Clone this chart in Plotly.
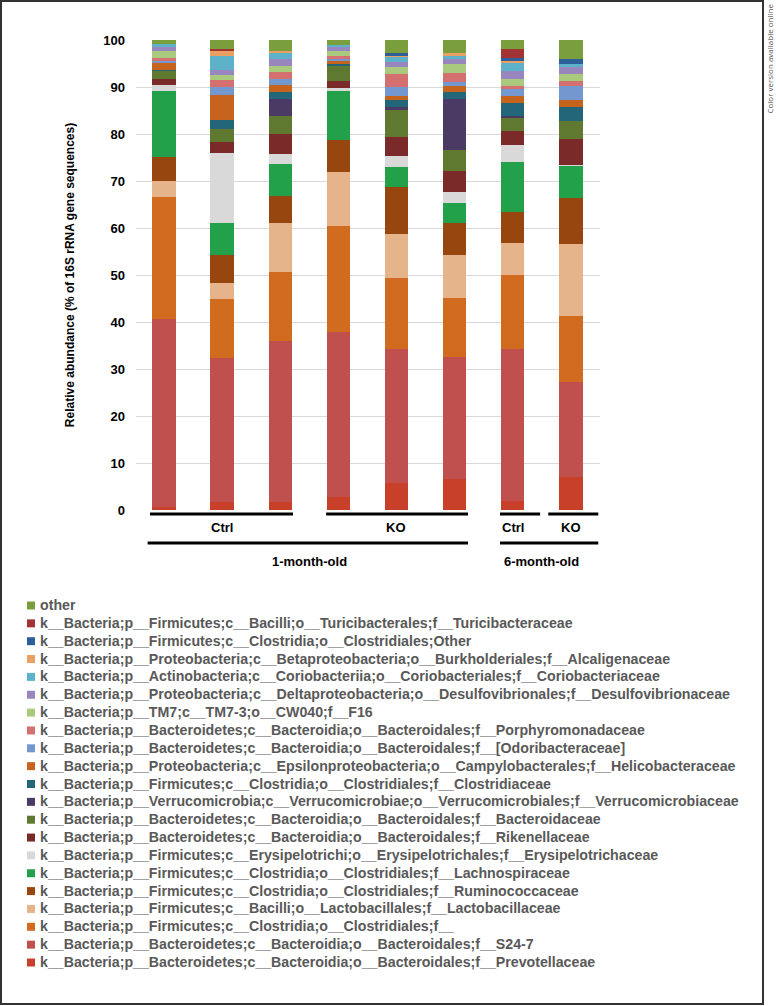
import plotly.graph_objects as go

samples = ["C1", "C2", "C3", "K1", "K2", "K3", "C6", "K6"]

taxa = [
    "k__Bacteria;p__Bacteroidetes;c__Bacteroidia;o__Bacteroidales;f__Prevotellaceae",
    "k__Bacteria;p__Bacteroidetes;c__Bacteroidia;o__Bacteroidales;f__S24-7",
    "k__Bacteria;p__Firmicutes;c__Clostridia;o__Clostridiales;f__",
    "k__Bacteria;p__Firmicutes;c__Bacilli;o__Lactobacillales;f__Lactobacillaceae",
    "k__Bacteria;p__Firmicutes;c__Clostridia;o__Clostridiales;f__Ruminococcaceae",
    "k__Bacteria;p__Firmicutes;c__Clostridia;o__Clostridiales;f__Lachnospiraceae",
    "k__Bacteria;p__Firmicutes;c__Erysipelotrichi;o__Erysipelotrichales;f__Erysipelotrichaceae",
    "k__Bacteria;p__Bacteroidetes;c__Bacteroidia;o__Bacteroidales;f__Rikenellaceae",
    "k__Bacteria;p__Bacteroidetes;c__Bacteroidia;o__Bacteroidales;f__Bacteroidaceae",
    "k__Bacteria;p__Verrucomicrobia;c__Verrucomicrobiae;o__Verrucomicrobiales;f__Verrucomicrobiaceae",
    "k__Bacteria;p__Firmicutes;c__Clostridia;o__Clostridiales;f__Clostridiaceae",
    "k__Bacteria;p__Proteobacteria;c__Epsilonproteobacteria;o__Campylobacterales;f__Helicobacteraceae",
    "k__Bacteria;p__Bacteroidetes;c__Bacteroidia;o__Bacteroidales;f__[Odoribacteraceae]",
    "k__Bacteria;p__Bacteroidetes;c__Bacteroidia;o__Bacteroidales;f__Porphyromonadaceae",
    "k__Bacteria;p__TM7;c__TM7-3;o__CW040;f__F16",
    "k__Bacteria;p__Proteobacteria;c__Deltaproteobacteria;o__Desulfovibrionales;f__Desulfovibrionaceae",
    "k__Bacteria;p__Actinobacteria;c__Coriobacteriia;o__Coriobacteriales;f__Coriobacteriaceae",
    "k__Bacteria;p__Proteobacteria;c__Betaproteobacteria;o__Burkholderiales;f__Alcaligenaceae",
    "k__Bacteria;p__Firmicutes;c__Clostridia;o__Clostridiales;Other",
    "k__Bacteria;p__Firmicutes;c__Bacilli;o__Turicibacterales;f__Turicibacteraceae",
    "other",
]

colors = [
    "#C9402A", "#C0504D", "#D06B20", "#E6B48A", "#984610", "#23A04A",
    "#D9D9D9", "#7B2A2A", "#5F7A30", "#4B3A64", "#23667A", "#C6631C",
    "#7398D0", "#D57070", "#A9C97C", "#9A86BF", "#5DB1C9", "#E9A062",
    "#2F5F98", "#A33434", "#7B9E3C",
]

# values (% of 16S rRNA gene sequences), one list per taxon, 8 samples each
prevotellaceae      = [0.6, 1.6, 1.6, 2.8, 5.8, 6.7, 2.0, 7.0]
s24_7               = [40.0, 30.8, 34.4, 35.0, 28.4, 25.8, 32.3, 20.3]
clostridiales_f     = [26.1, 12.6, 14.6, 22.6, 15.2, 12.7, 15.8, 14.0]
lactobacillaceae    = [3.4, 3.2, 10.5, 11.5, 9.3, 9.1, 6.8, 15.2]
ruminococcaceae     = [5.1, 6.1, 5.7, 6.8, 10.0, 6.7, 6.6, 9.8]
lachnospiraceae     = [14.0, 6.7, 6.8, 10.4, 4.3, 4.3, 10.5, 7.0]
erysipelotrichaceae = [1.2, 15.0, 2.1, 0.6, 2.3, 2.4, 3.7, 0.2]
rikenellaceae       = [1.4, 2.4, 4.4, 1.6, 4.1, 4.4, 2.9, 5.4]
bacteroidaceae      = [1.7, 2.7, 3.7, 3.2, 5.9, 4.6, 2.9, 3.9]
verrucomicrobiaceae = [0.0, 0.0, 3.6, 0.0, 0.4, 10.7, 0.3, 0.0]
clostridiaceae      = [0.2, 1.9, 1.5, 0.5, 1.5, 1.6, 2.9, 3.0]
helicobacteraceae   = [1.5, 5.3, 1.5, 0.5, 0.9, 1.2, 1.4, 1.4]
odoribacteraceae    = [0.3, 1.8, 1.2, 0.5, 2.0, 0.9, 1.4, 3.1]
porphyromonadaceae  = [0.7, 1.4, 1.6, 0.6, 2.7, 1.8, 0.7, 1.0]
f16                 = [1.5, 1.1, 1.3, 1.1, 1.4, 2.1, 1.4, 1.5]
desulfovibrionaceae = [0.9, 1.1, 1.5, 0.9, 1.2, 0.9, 1.7, 1.5]
coriobacteriaceae   = [0.5, 2.8, 1.3, 0.3, 1.1, 0.8, 1.9, 0.6]
alcaligenaceae      = [0.0, 1.2, 0.4, 0.0, 0.2, 0.5, 0.4, 0.0]
clostridiales_other = [0.0, 0.0, 0.0, 0.0, 0.5, 0.0, 0.5, 1.0]
turicibacteraceae   = [0.0, 0.4, 0.0, 0.0, 0.0, 0.0, 1.9, 0.0]
other               = [0.9, 1.9, 2.3, 1.1, 2.8, 2.8, 2.0, 4.1]

series = [
    prevotellaceae, s24_7, clostridiales_f, lactobacillaceae, ruminococcaceae,
    lachnospiraceae, erysipelotrichaceae, rikenellaceae, bacteroidaceae,
    verrucomicrobiaceae, clostridiaceae, helicobacteraceae, odoribacteraceae,
    porphyromonadaceae, f16, desulfovibrionaceae, coriobacteriaceae,
    alcaligenaceae, clostridiales_other, turicibacteraceae, other,
]

group_labels = ["Ctrl", "KO", "Ctrl", "KO"]
age_labels = ["1-month-old", "6-month-old"]

xpos = list(range(len(samples)))

# plot-area geometry in pixels (for converting decoration positions)
L, R, T, B = 136, 600, 40, 510
def px(xp):
    return (xp - L) / (R - L)
def py(yp):
    return (B - yp) / (B - T)

fig = go.Figure()
for name, vals, col in zip(taxa, series, colors):
    fig.add_trace(go.Bar(
        x=xpos, y=vals, name=name, marker=dict(color=col, line=dict(width=0)),
        width=0.4, showlegend=False,
    ))

fig.update_layout(
    barmode="stack",
    width=776, height=1006,
    margin=dict(l=L, r=776 - R, t=T, b=1006 - B, autoexpand=False),
    paper_bgcolor="white", plot_bgcolor="white",
    font=dict(family="Liberation Sans, Arial, sans-serif", color="#000000"),
    xaxis=dict(range=[-0.48, 7.5], showticklabels=False, showgrid=False,
               zeroline=False, showline=False, ticks=""),
    yaxis=dict(range=[0, 100], dtick=10, showgrid=True, gridcolor="#D9D9D9",
               gridwidth=1, zeroline=False, showline=False,
               tickfont=dict(size=13, weight="bold"), ticks="",
               ticklabelstandoff=10,
               title=dict(text="Relative abundance (% of 16S rRNA gene sequences)",
                          font=dict(size=12, weight="bold"), standoff=26)),
    showlegend=False,
)

shapes = []
# group underlines (data x, paper y)
line_specs_top = [(-0.24, 2.22), (2.79, 5.23), (5.78, 6.47), (6.61, 7.47)]
line_specs_bot = [(-0.28, 5.23), (5.78, 7.47)]
for x0, x1 in line_specs_top:
    shapes.append(dict(type="line", xref="x", yref="paper", x0=x0, x1=x1,
                       y0=py(514), y1=py(514), line=dict(color="black", width=3)))
for x0, x1 in line_specs_bot:
    shapes.append(dict(type="line", xref="x", yref="paper", x0=x0, x1=x1,
                       y0=py(543), y1=py(543), line=dict(color="black", width=3)))
# outer frame
shapes.append(dict(type="rect", xref="paper", yref="paper",
                   x0=px(1), x1=px(763), y0=py(1004), y1=py(1),
                   line=dict(color="#333333", width=2)))

annos = []
for lbl, xc in zip(group_labels, [1, 4, 6, 7]):
    annos.append(dict(text=lbl, x=xc, xref="x", y=py(527), yref="paper",
                      yanchor="middle", showarrow=False,
                      font=dict(size=13, weight="bold")))
for lbl, xc in zip(age_labels, [2.5, 6.5]):
    annos.append(dict(text=lbl, x=xc, xref="x", y=py(561), yref="paper",
                      yanchor="middle", showarrow=False,
                      font=dict(size=13, weight="bold")))
annos.append(dict(text="Color version available online", textangle=-90,
                  x=px(776), xref="paper", xanchor="right",
                  y=py(2), yref="paper", yanchor="top",
                  showarrow=False,
                  font=dict(size=8, color="#555555", family="Open Sans, sans-serif")))

# legend (top entry = last taxon), drawn as real text rows with colour keys
row0, row_step = 605, 17.85
for i, (name, col) in enumerate(zip(reversed(taxa), reversed(colors))):
    yc = row0 + i * row_step
    shapes.append(dict(type="rect", xref="paper", yref="paper",
                       x0=px(27), x1=px(35), y0=py(yc + 4.5), y1=py(yc - 3.5),
                       fillcolor=col, line=dict(width=0)))
    annos.append(dict(text=name, x=px(38), xref="paper", xanchor="left",
                      y=py(yc), yref="paper", yanchor="middle", showarrow=False,
                      font=dict(size=14.2, weight="bold", color="#595959")))

fig.update_layout(shapes=shapes, annotations=annos)

fig.write_html("out.html",
               config={"displayModeBar": False},
               post_script="document.body.style.margin='0px';"
                           "document.body.style.overflow='hidden';")
